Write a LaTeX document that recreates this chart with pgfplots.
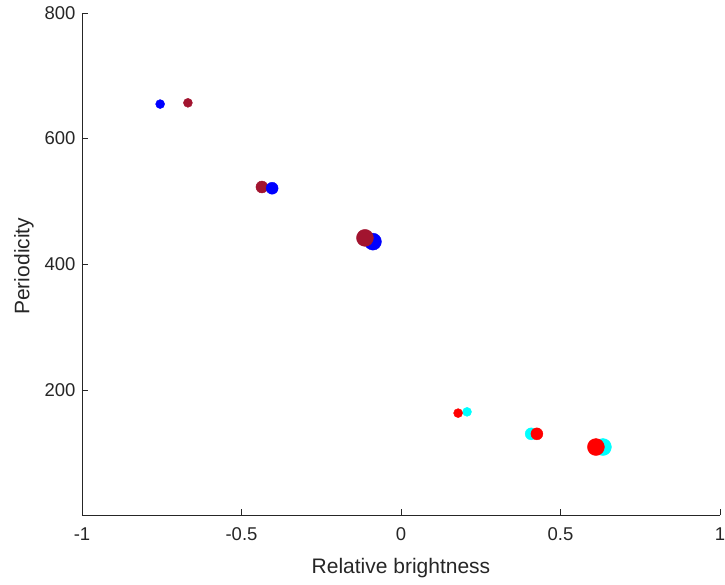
\documentclass[border=0pt]{standalone}
\usepackage{pgfplots}
\pgfplotsset{compat=1.18}
\usepackage{fontspec}
\setmainfont{Liberation Sans}
\definecolor{axgray}{rgb}{0.15,0.15,0.15}
\definecolor{mblue}{rgb}{0,0,1}
\definecolor{mdred}{rgb}{0.635,0.078,0.184}
\definecolor{mred}{rgb}{1,0,0}
\definecolor{mcyan}{rgb}{0,1,1}
\begin{document}
\begin{tikzpicture}
\useasboundingbox (-82pt,-69.5pt) rectangle (643pt,515.5pt);
\begin{axis}[
  at={(0,0)}, anchor=south west,
  scale only axis,
  width=638pt, height=502.5pt,
  xmin=-1, xmax=1, ymin=0, ymax=800,
  axis x line*=bottom, axis y line*=left,
  axis line style={axgray, line width=0.6pt},
  tick style={axgray, line width=0.6pt},
  tick align=inside,
  major tick length=6.5pt,
  xtick={-1,-0.5,0,0.5,1},
  xticklabels={-1,-0.5,0,0.5,1},
  ytick={200,400,600,800},
  yticklabels={200,400,600,800},
  ticklabel style={font=\fontsize{18.5}{21}\selectfont, text=axgray},
  label style={font=\fontsize{21}{24}\selectfont, text=axgray},
  xlabel={Relative brightness},
  ylabel={Periodicity},
  xticklabel style={yshift=-9pt},
  yticklabel style={xshift=-3pt},
  xlabel style={at={(axis description cs:0.5,0)}, anchor=base, yshift=-57.8pt},
  ylabel style={at={(axis description cs:0,0.5)}, anchor=base, yshift=52.7pt, xshift=-2pt},
  clip=false,
]
% small
\addplot[only marks, mark=*, mark size=4.5pt, color=mblue] coordinates {(-0.755,655)};
\addplot[only marks, mark=*, mark size=4.5pt, color=mdred] coordinates {(-0.668,657)};
% medium
\addplot[only marks, mark=*, mark size=6pt, color=mdred] coordinates {(-0.436,523)};
\addplot[only marks, mark=*, mark size=6pt, color=mblue] coordinates {(-0.404,521)};
% large
\addplot[only marks, mark=*, mark size=8.5pt, color=mblue] coordinates {(-0.088,436)};
\addplot[only marks, mark=*, mark size=8.5pt, color=mdred] coordinates {(-0.113,442)};
% red / cyan
\addplot[only marks, mark=*, mark size=4.5pt, color=mcyan] coordinates {(0.207,165)};
\addplot[only marks, mark=*, mark size=4.5pt, color=mred] coordinates {(0.179,163)};
\addplot[only marks, mark=*, mark size=6pt, color=mcyan] coordinates {(0.408,130)};
\addplot[only marks, mark=*, mark size=6pt, color=mred] coordinates {(0.426,130)};
\addplot[only marks, mark=*, mark size=8.5pt, color=mcyan] coordinates {(0.633,109)};
\addplot[only marks, mark=*, mark size=8.5pt, color=mred] coordinates {(0.611,109)};
\end{axis}
\end{tikzpicture}
\end{document}
